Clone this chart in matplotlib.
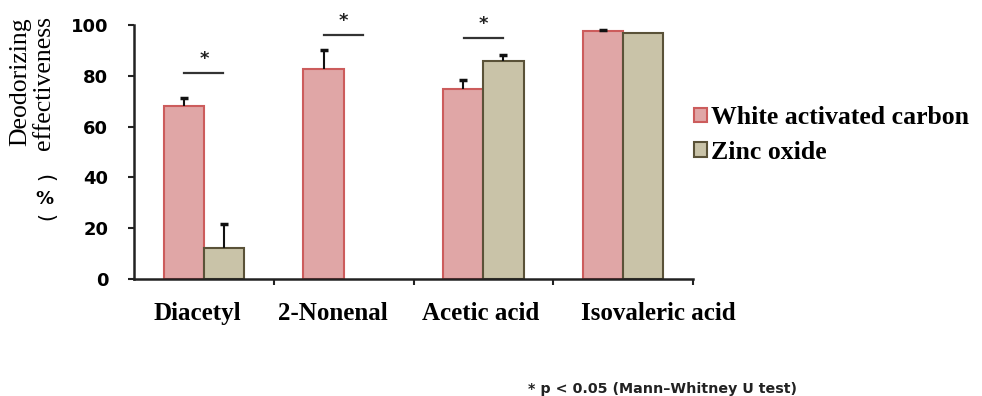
import matplotlib
matplotlib.use("Agg")
import matplotlib.pyplot as plt
from matplotlib.patches import Patch
import numpy as np

categories = ["Diacetyl", "2-Nonenal", "Acetic acid", "Isovaleric acid"]
series_names = ["White activated carbon", "Zinc oxide"]
wac_values = [68.1, 82.5, 74.8, 97.6]
wac_err = [3.3, 7.7, 3.5, 0.4]
zno_values = [12.2, 0.0, 85.8, 97.0]
zno_err = [9.4, 0.0, 2.4, 0.0]
sig_pairs = [0, 1, 2]          # categories with a significance mark
sig_levels = [81, 96, 95]       # height of significance bar
yticks = [0, 20, 40, 60, 80, 100]
label_offsets = [-0.05, -0.08, -0.02, 0.25]
footnote = "* p < 0.05 (Mann\u2013Whitney U test)"

W, H = 982, 396
fig = plt.figure(figsize=(W / 100, H / 100), dpi=100)
ax = fig.add_axes([134 / W, 1 - 279 / H, 559 / W, 254 / H])

wac_face, wac_edge = "#E0A6A6", "#CC5C5C"
zno_face, zno_edge = "#C9C3A8", "#5A5238"

x = np.arange(len(categories))
bw = 0.288
for offset, vals, errs, fc, ec in [(-bw / 2, wac_values, wac_err, wac_face, wac_edge),
                                   (bw / 2, zno_values, zno_err, zno_face, zno_edge)]:
    for xi, v, e in zip(x + offset, vals, errs):
        if v <= 0:
            continue
        ax.bar(xi, v, bw, color=fc, edgecolor=ec, linewidth=1.5, zorder=2)
        if e > 0:
            _, caps, _ = ax.errorbar(xi, v, yerr=[[0], [e]], fmt="none", ecolor="#111111",
                                     elinewidth=1.5, capsize=3, capthick=2.5, zorder=3)
            if len(caps) == 2:
                caps[0].set_visible(False)

for ci, lvl in zip(sig_pairs, sig_levels):
    ax.plot([ci - 0.14, ci + 0.14], [lvl, lvl], color="#333333", lw=1.6, clip_on=False, zorder=3)
    ax.text(ci, lvl + 2.0, "*", ha="center", va="bottom", fontsize=13, fontweight="bold",
            color="#222222", family="DejaVu Sans", clip_on=False)

ax.set_xlim(-0.5, len(categories) - 0.5)
ax.set_ylim(0, 100)
ax.set_yticks(yticks)
ax.set_yticklabels([str(t) for t in yticks], fontsize=13, fontweight="bold", family="DejaVu Sans")
ax.set_xticks(np.arange(len(categories)) + 0.5)
ax.set_xticklabels([])
ax.tick_params(axis="y", direction="out", length=4.5, width=1.5, pad=14, color="#222222")
ax.tick_params(axis="x", direction="out", length=4, width=1.5, color="#222222")
for s in ["top", "right"]:
    ax.spines[s].set_visible(False)
for s in ["left", "bottom"]:
    ax.spines[s].set_linewidth(1.8)
    ax.spines[s].set_color("#222222")

# category labels
for i, (cat, off) in enumerate(zip(categories, label_offsets)):
    ax.text(i + off, -13.5, cat, transform=ax.transData, ha="center", va="center",
            fontsize=18, fontweight="bold", family="Liberation Serif", clip_on=False)

# y label
fig.text(20 / W, 1 - 81.5 / H, "Deodorizing", rotation=90, ha="center", va="center",
         fontsize=18.5, family="Liberation Serif")
fig.text(44 / W, 1 - 82.5 / H, "effectiveness", rotation=90, ha="center", va="center",
         fontsize=18.5, family="Liberation Serif")
fig.text(44 / W, 1 - 178 / H, "(", rotation=-90, ha="center", va="center", fontsize=15,
         family="DejaVu Sans")
fig.text(44 / W, 1 - 199 / H, "%", ha="center", va="center", fontsize=13, fontweight="bold",
         family="DejaVu Sans")
fig.text(44 / W, 1 - 218 / H, ")", rotation=-90, ha="center", va="center", fontsize=15,
         family="DejaVu Sans")

handles = [Patch(facecolor=wac_face, edgecolor=wac_edge, linewidth=1.5),
           Patch(facecolor=zno_face, edgecolor=zno_edge, linewidth=1.5)]
fig.legend(handles, series_names, loc="upper left", bbox_to_anchor=(694 / W, 1 - 106 / H),
           frameon=False, borderpad=0, borderaxespad=0, handlelength=0.5, handleheight=0.5,
           handletextpad=0.15, labelspacing=0.45,
           prop={"family": "Liberation Serif", "weight": "bold", "size": 18.5})

fig.text(662 / W, 1 - 389 / H, footnote, ha="center", va="center", fontsize=10.3,
         fontweight="bold", family="DejaVu Sans", color="#222222")

fig.savefig("out.png", dpi=100)
